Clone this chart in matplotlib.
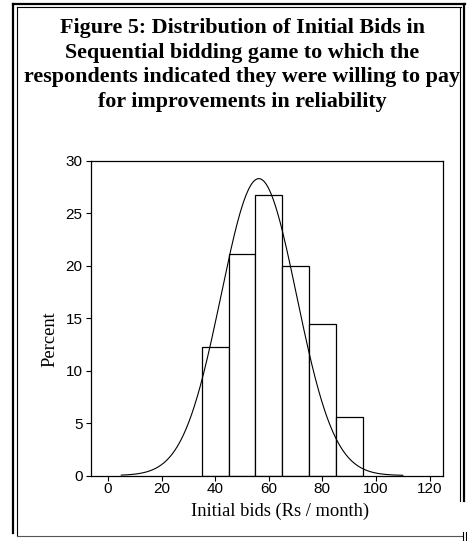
import matplotlib
matplotlib.use("Agg")
import matplotlib.pyplot as plt
from matplotlib.lines import Line2D
import numpy as np

# histogram of initial bids (percent of respondents per 10 Rs bin)
bin_edges = [35, 45, 55, 65, 75, 85, 95]
percent = [12.2, 21.1, 26.7, 20.0, 14.4, 5.6]

# fitted normal curve parameters
bid_mean = 56.3
bid_sd = 14.1
curve_range = [5, 110]

x_ticks = [0, 20, 40, 60, 80, 100, 120]
y_ticks = [0, 5, 10, 15, 20, 25, 30]

title = ("Figure 5: Distribution of Initial Bids in\n"
         "Sequential bidding game to which the\n"
         "respondents indicated they were willing to pay\n"
         "for improvements in reliability")

W, H = 467, 541
serif = "Liberation Serif"
sans = "Liberation Sans"

fig = plt.figure(figsize=(W / 100, H / 100), dpi=100)


def px(x, y):
    # pixel position (from top-left) to figure fraction
    return x / W, 1 - y / H


def fig_line(x0, y0, x1, y1, lw=1.0, color="black"):
    a, b = px(x0, y0)
    c, d = px(x1, y1)
    fig.add_artist(Line2D([a, c], [b, d], transform=fig.transFigure,
                          lw=lw, color=color))


# page frame (double rules)
fig_line(13, 3.5, 465, 3.5, lw=1.6)
fig_line(17, 6.5, 461, 6.5, lw=0.8)
fig_line(13, 3.5, 13, 533, lw=1.6)
fig_line(17, 6.5, 17, 536, lw=0.8)
fig_line(464, 3.5, 464, 501, lw=1.6)
fig_line(460, 6.5, 460, 501, lw=0.8)
fig_line(17, 536, 462, 536, lw=0.8, color="#555555")
fig_line(463, 532, 463, 541, lw=0.8)
fig_line(466, 532, 466, 541, lw=0.8)

# title
tx, ty = px(242, 65)
fig.text(tx, ty, title, ha="center", va="center", family=serif,
         fontweight="bold", fontsize=15.8, linespacing=1.3)

left, top = px(91, 160.7)
right, bottom = px(443, 475.5)
ax = fig.add_axes([left, bottom, right - left, top - bottom])

edges = np.array(bin_edges)
ax.bar(edges[:-1], percent, width=np.diff(edges), align="edge",
       facecolor="white", edgecolor="black", linewidth=0.9)

xs = np.linspace(curve_range[0], curve_range[1], 400)
width = edges[1] - edges[0]
ys = 100 * width / (bid_sd * np.sqrt(2 * np.pi)) * np.exp(-0.5 * ((xs - bid_mean) / bid_sd) ** 2)
ax.plot(xs, ys, color="black", lw=0.8)

ax.set_xlim(-6.3, 125)
ax.set_ylim(0, 30)
ax.set_xticks(x_ticks)
ax.set_yticks(y_ticks)
for lab in ax.get_xticklabels() + ax.get_yticklabels():
    lab.set_family(sans)
    lab.set_fontsize(11)
ax.tick_params(axis="both", length=3.5, width=0.8, direction="out")
ax.tick_params(axis="x", pad=1.5)
ax.tick_params(axis="y", pad=2.5)
for s in ax.spines.values():
    s.set_linewidth(0.9)

xl, yl = px(280, 511)
fig.text(xl, yl, "Initial bids (Rs / month)", ha="center", va="center",
         family=serif, fontsize=13.3)
pl, pb = px(50, 339)
fig.text(pl, pb, "Percent", ha="center", va="center", rotation=90,
         family=serif, fontsize=13.3)

fig.savefig("out.png", dpi=100)
